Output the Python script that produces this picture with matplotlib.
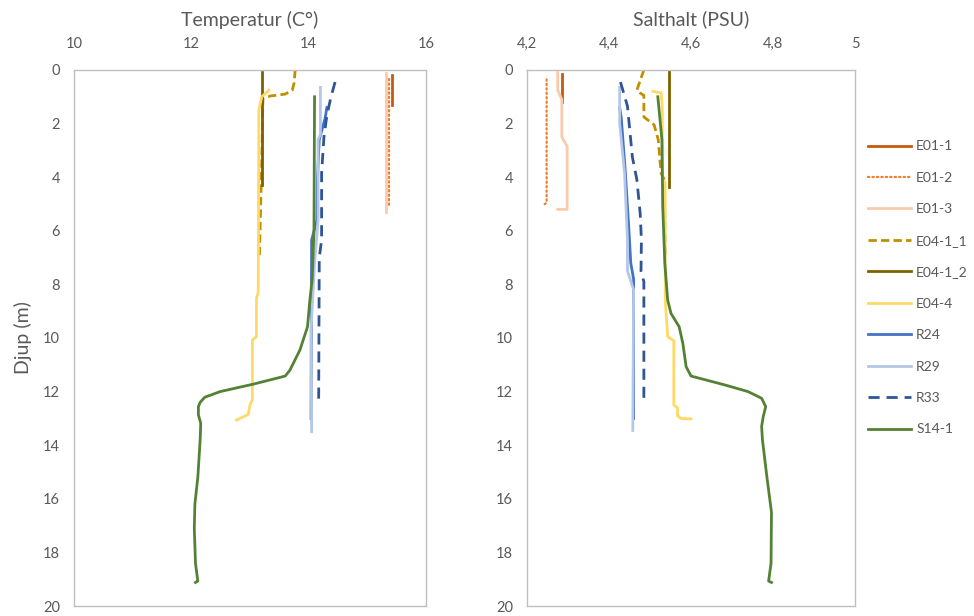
import matplotlib
matplotlib.use("Agg")
import matplotlib.pyplot as plt

# Depth profiles: (depth m, value) per station
series_names = ["E01-1", "E01-2", "E01-3", "E04-1_1", "E04-1_2",
                "E04-4", "R24", "R29", "R33", "S14-1"]

# Temperature (C)
temp_e01_1 = ([0.2, 1.3], [15.42, 15.42])
temp_e01_2 = ([0.35, 5.05], [15.37, 15.37])
temp_e01_3 = ([0.1, 5.3], [15.32, 15.32])
temp_e04_1_1 = ([0.0, 0.5, 0.75, 0.9, 0.97, 1.05, 3.4, 7.0],
                [13.77, 13.75, 13.72, 13.6, 13.35, 13.22, 13.2, 13.16])
temp_e04_1_2 = ([0.07, 4.3], [13.2, 13.2])
temp_e04_4 = ([0.75, 0.8, 1.0, 1.5, 8.3, 8.5, 9.95, 10.07, 12.3, 12.5, 12.85, 13.0, 13.06],
              [13.32, 13.3, 13.2, 13.15, 13.14, 13.11, 13.11, 13.04, 13.04, 13.0, 12.97, 12.83, 12.77])
temp_r24 = ([1.4, 1.8, 2.6, 4.0, 5.6, 6.35, 13.0],
            [14.31, 14.28, 14.18, 14.15, 14.14, 14.05, 14.04])
temp_r29 = ([0.65, 2.4, 2.6, 5.6, 7.2, 9.7, 13.5],
            [14.2, 14.2, 14.16, 14.16, 14.1, 14.04, 14.05])
temp_r33 = ([0.45, 1.0, 1.7, 2.5, 3.85, 6.35, 7.0, 12.35, 12.4],
            [14.45, 14.38, 14.31, 14.26, 14.22, 14.22, 14.18, 14.17, 14.22])
temp_s14_1 = ([1.0, 5.97, 7.8, 8.58, 9.58, 10.45, 11.2, 11.42, 11.72, 12.0, 12.21, 12.4,
               12.56, 12.87, 13.18, 13.8, 15.2, 16.2, 17.1, 18.4, 19.07, 19.12],
              [14.1, 14.09, 14.06, 14.02, 13.98, 13.85, 13.68, 13.6, 13.06, 12.49, 12.23, 12.15,
               12.12, 12.12, 12.16, 12.15, 12.11, 12.06, 12.05, 12.07, 12.11, 12.07])

# Salinity (PSU)
sal_e01_1 = ([0.15, 1.2], [4.285, 4.285])
sal_e01_2 = ([0.35, 4.95, 5.05], [4.248, 4.248, 4.24])
sal_e01_3 = ([0.1, 0.75, 1.1, 2.5, 2.85, 5.2, 5.2],
             [4.275, 4.275, 4.285, 4.285, 4.298, 4.298, 4.275])
sal_e04_1_1 = ([0.0, 0.75, 0.85, 0.95, 1.75, 2.05, 2.6, 3.85, 4.1, 7.0],
               [4.485, 4.468, 4.475, 4.485, 4.485, 4.51, 4.52, 4.527, 4.535, 4.537])
sal_e04_1_2 = ([0.0, 4.35], [4.546, 4.546])
sal_e04_4 = ([0.8, 0.85, 1.5, 4.1, 4.2, 8.58, 9.95, 10.1, 12.5, 12.6, 12.9, 13.0, 13.02],
             [4.507, 4.527, 4.53, 4.53, 4.537, 4.537, 4.543, 4.558, 4.558, 4.567, 4.567, 4.575, 4.6])
sal_r24 = ([1.4, 1.8, 3.85, 6.35, 7.2, 7.8, 13.0],
           [4.426, 4.43, 4.44, 4.45, 4.453, 4.46, 4.46])
sal_r29 = ([0.65, 2.0, 3.85, 6.35, 7.5, 8.2, 13.45],
           [4.426, 4.426, 4.438, 4.445, 4.445, 4.46, 4.458])
sal_r33 = ([0.45, 1.35, 3.25, 4.1, 5.35, 6.35, 7.5, 7.9, 12.3, 12.35],
           [4.428, 4.445, 4.457, 4.468, 4.476, 4.479, 4.478, 4.485, 4.485, 4.477])
sal_s14_1 = ([1.0, 2.6, 5.1, 7.2, 8.58, 9.08, 9.58, 10.2, 11.07, 11.42, 11.75, 12.0, 12.25,
              12.56, 12.93, 13.3, 13.8, 15.2, 16.5, 18.4, 19.07, 19.12],
             [4.519, 4.529, 4.531, 4.536, 4.543, 4.551, 4.571, 4.58, 4.588, 4.6, 4.682,
              4.739, 4.772, 4.782, 4.776, 4.772, 4.774, 4.785, 4.796, 4.795, 4.789, 4.796])

temp_series = [temp_e01_1, temp_e01_2, temp_e01_3, temp_e04_1_1, temp_e04_1_2,
               temp_e04_4, temp_r24, temp_r29, temp_r33, temp_s14_1]
sal_series = [sal_e01_1, sal_e01_2, sal_e01_3, sal_e04_1_1, sal_e04_1_2,
              sal_e04_4, sal_r24, sal_r29, sal_r33, sal_s14_1]

temp_ticks = [10, 12, 14, 16]
sal_ticks = [4.2, 4.4, 4.6, 4.8, 5.0]
sal_tick_labels = ["4,2", "4,4", "4,6", "4,8", "5"]
depth_ticks = list(range(0, 21, 2))

# Line styles per station
styles = [
    dict(color="#C55A11", lw=2.0, ls="-"),
    dict(color="#ED7D31", lw=1.6, ls=(0, (0.6, 1.4)), dash_capstyle="round"),
    dict(color="#F8CBAD", lw=2.0, ls="-"),
    dict(color="#BF9000", lw=2.0, ls=(0, (3.0, 1.5))),
    dict(color="#7F6000", lw=2.0, ls="-"),
    dict(color="#FFD966", lw=2.0, ls="-"),
    dict(color="#4472C4", lw=2.0, ls="-"),
    dict(color="#B4C7E7", lw=2.0, ls="-"),
    dict(color="#2F5597", lw=2.0, ls=(0, (4.0, 2.5))),
    dict(color="#548235", lw=2.0, ls="-"),
]

plt.rcParams['font.family'] = ['Lato', 'DejaVu Sans']
text_color = "#595959"
spine_color = "#BFBFBF"

fig = plt.figure(figsize=(9.74, 6.16), dpi=100)
ax_t = fig.add_axes([0.076, 0.0162, 0.3614, 0.8702])
ax_s = fig.add_axes([0.541, 0.0162, 0.337, 0.8702])


def style_axis(ax, xlim, xticks, xlabels, title):
    ax.set_xlim(*xlim)
    ax.set_ylim(20, 0)
    ax.xaxis.tick_top()
    ax.set_xticks(xticks)
    ax.set_xticklabels(xlabels)
    ax.set_yticks(depth_ticks)
    ax.tick_params(length=0, colors=text_color, labelsize=10.5, pad=10)
    ax.tick_params(axis='x', pad=14)
    for sp in ax.spines.values():
        sp.set_color(spine_color)
        sp.set_linewidth(1.0)
    ax.set_title(title, color=text_color, fontsize=14, pad=32)


handles = []
for data, st, name in zip(temp_series, styles, series_names):
    ax_t.plot(data[1], data[0], solid_joinstyle="round", **st)
for data, st, name in zip(sal_series, styles, series_names):
    h, = ax_s.plot(data[1], data[0], label=name, solid_joinstyle="round", **st)
    handles.append(h)

style_axis(ax_t, (10, 16), temp_ticks, [str(t) for t in temp_ticks], "Temperatur (C°)")
style_axis(ax_s, (4.2, 5.0), sal_ticks, sal_tick_labels, "Salthalt (PSU)")
ax_t.set_ylabel("Djup (m)", color=text_color, fontsize=14, labelpad=8)

fig.legend(handles=handles, loc="upper left", bbox_to_anchor=(0.885, 0.781),
           frameon=False, fontsize=10, handlelength=3.1, handletextpad=0.4,
           labelspacing=1.4, labelcolor=text_color, borderaxespad=0)

fig.savefig("out.png", dpi=100)
